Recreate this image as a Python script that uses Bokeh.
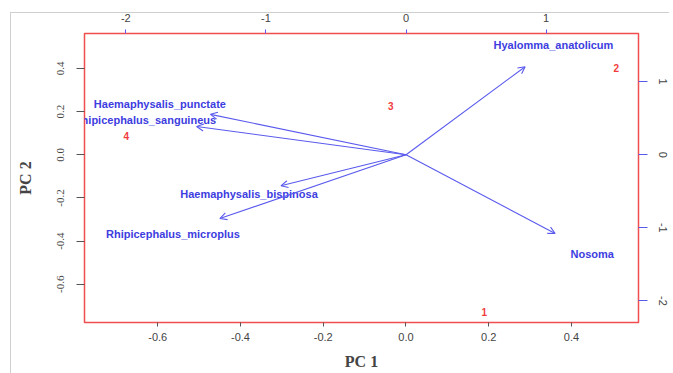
from bokeh.plotting import figure
from bokeh.models import Range1d, LinearAxis, FixedTicker, Arrow, OpenHead, ColumnDataSource
from bokeh.core.properties import value
from bokeh.embed import file_html
from bokeh.resources import INLINE

# ---- data ----
# observations (scores) in PC1 / PC2 units (bottom / left axes)
obs_labels = ["1", "2", "3", "4"]
obs_pc1 = [0.189, 0.508, -0.037, -0.676]
obs_pc2 = [-0.729, 0.400, 0.228, 0.086]

# variables (loadings) on the top / right axes
var_names = ["Hyalomma_anatolicum", "Haemaphysalis_punctate", "Rhipicephalus_sanguineus",
             "Haemaphysalis_bispinosa", "Rhipicephalus_microplus", "Nosoma"]
var_label_x = [1.052, -1.757, -1.864, -1.121, -1.664, 1.329]
var_label_y = [1.505, 0.696, 0.482, -0.542, -1.087, -1.360]
var_arrow_x = [0.850, -1.396, -1.495, -0.893, -1.329, 1.064]
var_arrow_y = [1.205, 0.553, 0.386, -0.425, -0.873, -1.078]

bottom_ticks = [-0.6, -0.4, -0.2, 0.0, 0.2, 0.4]
bottom_tick_labels = ["-0.6", "-0.4", "-0.2", "0.0", "0.2", "0.4"]
left_ticks = [-0.6, -0.4, -0.2, 0.0, 0.2, 0.4]
left_tick_labels = ["-0.6", "-0.4", "-0.2", "0.0", "0.2", "0.4"]
top_ticks = [-2, -1, 0, 1]
top_tick_labels = ["-2", "-1", "0", "1"]
right_ticks = [-2, -1, 0, 1]
right_tick_labels = ["-2", "-1", "0", "1"]

PRI = (-0.777, 0.562)
SEC = (-2.295, 1.659)

BLUE = "#5a5aee"
BLUE_TXT = "#3d3de0"
RED = "#f03c3c"

p = figure(width=669, height=373, output_backend="svg", toolbar_location=None,
           x_range=Range1d(*PRI), y_range=Range1d(*PRI),
           min_border_left=84, min_border_top=33, min_border_right=31, min_border_bottom=51,
           background_fill_color="white", border_fill_color=None)
p.extra_x_ranges = {"top": Range1d(*SEC)}
p.extra_y_ranges = {"right": Range1d(*SEC)}
p.grid.visible = False
p.outline_line_color = RED
p.outline_line_width = 1.5
p.outline_line_alpha = 0.9

p.styles = {
    "background": "linear-gradient(#cfcfcf,#cfcfcf) 10px 12px / 1px 100% no-repeat, "
                  "linear-gradient(#cfcfcf,#cfcfcf) 10px 12px / 100% 1px no-repeat"
}

def style_axis(ax, ticks, labels, tick_color, font, out, standoff, vertical=False):
    ax.ticker = FixedTicker(ticks=ticks)
    ax.major_label_overrides = {t: l for t, l in zip(ticks, labels)}
    ax.axis_line_color = None
    ax.minor_tick_line_color = None
    ax.major_tick_line_color = tick_color
    ax.major_tick_out = out
    ax.major_tick_in = 0
    ax.major_label_standoff = standoff
    ax.major_label_text_font = font
    ax.major_label_text_font_size = "11px"
    ax.major_label_text_color = "#444444"
    if vertical:
        ax.major_label_orientation = "vertical"

xb = p.xaxis[0]
style_axis(xb, bottom_ticks, bottom_tick_labels, "#555555", "Liberation Sans", 4, 6)
xb.axis_label = "PC 1"
xb.axis_label_text_font = "Liberation Serif"
xb.axis_label_text_font_style = "bold"
xb.axis_label_text_font_size = "16px"
xb.axis_label_standoff = 9
xb.axis_label_text_align = "right"

yl = p.yaxis[0]
style_axis(yl, left_ticks, left_tick_labels, "#555555", "Liberation Serif", 8, 12, vertical=True)
yl.axis_label = "PC 2"
yl.axis_label_text_font = "Liberation Serif"
yl.axis_label_text_font_style = "bold"
yl.axis_label_text_font_size = "16px"
yl.axis_label_standoff = 21

xt = LinearAxis(x_range_name="top")
style_axis(xt, top_ticks, top_tick_labels, BLUE, "Liberation Sans", 4, 8)
p.add_layout(xt, "above")

yr = LinearAxis(y_range_name="right")
style_axis(yr, right_ticks, right_tick_labels, BLUE, "Liberation Sans", 9, 11, vertical=True)
p.add_layout(yr, "right")

# arrows
arr_src = ColumnDataSource(dict(x0=[0] * len(var_arrow_x), y0=[0] * len(var_arrow_y),
                                x1=var_arrow_x, y1=var_arrow_y))
p.add_layout(Arrow(source=arr_src, x_start="x0", y_start="y0", x_end="x1", y_end="y1",
                   x_range_name="top", y_range_name="right",
                   line_color=BLUE, line_width=1.1,
                   end=OpenHead(size=7, line_color=BLUE, line_width=1.1)))

# variable labels
p.text(x=var_label_x, y=var_label_y, text=var_names, x_range_name="top", y_range_name="right",
       text_align="center", text_baseline="middle", text_font=value("Liberation Sans"),
       text_font_size="11px", text_font_style="bold", text_color=BLUE_TXT)

# observation labels
p.text(x=obs_pc1, y=obs_pc2, text=obs_labels, text_align="center", text_baseline="middle",
       text_font=value("Liberation Sans"), text_font_size="10px", text_font_style="bold",
       text_color=RED)

open("out.html", "w").write(file_html(p, INLINE))
